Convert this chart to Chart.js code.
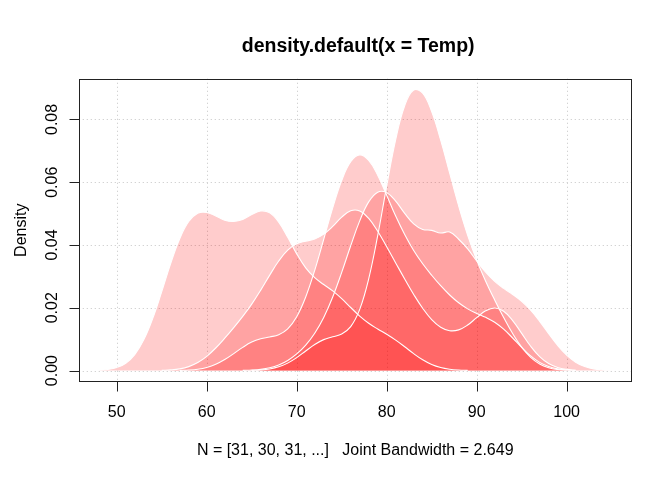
<!DOCTYPE html>
<html>
<head>
<meta charset="utf-8">
<script src="https://cdn.jsdelivr.net/npm/chart.js@4.4.1/dist/chart.umd.min.js"></script>
<style>
  html, body { margin: 0; padding: 0; background: #ffffff; }
  #wrap { width: 672px; height: 480px; }
</style>
</head>
<body>
<div id="wrap"><canvas id="c" width="672" height="480"></canvas></div>
<script>
// Temperature grid (x values)
const temps = [46,47,48,49,50,51,52,53,54,55,56,57,58,59,60,61,62,63,64,65,66,67,68,69,70,71,72,73,74,75,
  76,77,78,79,80,81,82,83,84,85,86,87,88,89,90,91,92,93,94,95,96,97,98,99,100,101,102,103,104,105,106];

// Density values per group, null = outside the curve
const densMay = [null,null,0.00011,0.00034,0.00095,0.00235,0.0051,0.00979,0.01662,0.02515,
  0.03413,0.042,0.04748,0.05013,0.05038,0.04924,0.0479,0.04753,0.04813,0.0497,
  0.05086,0.05026,0.04728,0.04247,0.03718,0.03271,0.02959,0.02741,0.02537,0.0229,
  0.02009,0.01736,0.01507,0.01324,0.01155,0.00969,0.00758,0.00539,0.00344,0.00194,
  0.00097,0.00043,0.00016,0.00005,
  null,null,null,null,null,null,null,null,null,null,null,null,null,null,null,null,null];

const densJun = [null,null,null,null,null,null,null,null,null,null,null,
  0.00006,0.00017,0.00044,0.0010,0.00199,0.0035,0.0054,0.0074,0.00908,0.01013,
  0.0107,0.01142,0.01328,0.01715,0.02345,0.03194,0.0418,0.05182,0.06054,0.06655,
  0.06872,0.06695,0.06224,0.05584,0.04922,0.04333,0.03824,0.03402,0.03037,0.02704,
  0.02408,0.02159,0.01966,0.01822,0.01696,0.01539,0.01318,0.01038,0.00737,0.00467,
  0.00261,0.00128,0.00055,0.00021,0.00007,
  null,null,null,null,null];

const densJul = [null,null,null,null,null,null,null,null,null,null,null,null,null,null,null,null,null,null,null,
  0.00007,0.0002,0.00052,0.00119,0.00237,0.00412,0.00625,0.00832,0.00986,0.01076,
  0.01167,0.014,0.01948,0.02923,0.04298,0.05879,0.07358,0.08437,0.08936,0.08837,
  0.08249,0.07341,0.0629,0.05246,0.0431,0.03518,0.02848,0.02251,0.01692,0.01179,
  0.00745,0.00421,0.0021,0.00092,0.00035,0.00012,
  null,null,null,null,null,null];

const densAug = [null,null,null,null,null,null,null,null,null,null,null,null,null,null,null,null,null,null,
  0.00005,0.00015,0.00039,0.00089,0.00179,0.00323,0.0053,0.00812,0.0119,0.01693,
  0.02343,0.03127,0.03975,0.04769,0.05374,0.05683,0.05669,0.05397,0.0501,0.04675,
  0.04497,0.04467,0.04383,0.04413,0.04184,0.03874,0.03492,0.03133,0.02842,0.02619,
  0.02425,0.02206,0.01922,0.01568,0.01178,0.00803,0.00492,0.00268,0.0013,0.00055,
  0.00021,0.00007,
  null];

const densSep = [null,null,null,null,null,null,null,null,null,
  0.00007,0.00021,0.00055,0.00126,0.00254,0.00453,0.00719,0.01032,0.01369,0.01726,
  0.02118,0.02563,0.03041,0.03489,0.03835,0.04037,0.04123,0.0419,0.04346,0.04591,
  0.04887,0.05091,0.05084,0.04845,0.04437,0.03945,0.0343,0.02918,0.02426,0.01984,
  0.01626,0.01382,0.0127,0.01297,0.01452,0.01685,0.01903,0.01995,0.01889,0.01593,
  0.01185,0.00775,0.00445,0.00223,0.00098,0.00037,0.00012,
  null,null,null,null,null];

const groupNames = ["May", "June", "July", "August", "September"];
const groupValues = [densMay, densJun, densJul, densAug, densSep];

// Axis ticks and texts
const xTicks = [50, 60, 70, 80, 90, 100];
const yTicks = [0, 0.02, 0.04, 0.06, 0.08];
const yTickLabels = ["0.00", "0.02", "0.04", "0.06", "0.08"];
const titleText = "density.default(x = Temp)";
const xLabelText = "N = [31, 30, 31, ...]   Joint Bandwidth = 2.649";
const yLabelText = "Density";

const FONT = '"Liberation Sans", Arial, Helvetica, sans-serif';

const datasets = groupValues.map((vals, gi) => ({
  label: groupNames[gi],
  data: temps.map((t, i) => ({ x: t, y: vals[i] })),
  borderColor: '#ffffff',
  borderWidth: 1.1,
  backgroundColor: 'rgba(255,0,0,0.2)',
  fill: 'origin',
  tension: 0.4,
  pointRadius: 0,
  spanGaps: false
}));

const bgGridPlugin = {
  id: 'bgGrid',
  beforeDraw(chart) {
    const ctx = chart.ctx;
    const a = chart.chartArea;
    const xs = chart.scales.x, ys = chart.scales.y;
    ctx.save();
    ctx.fillStyle = '#ffffff';
    ctx.fillRect(0, 0, chart.width, chart.height);
    ctx.strokeStyle = '#d3d3d3';
    ctx.lineWidth = 1;
    ctx.setLineDash([1.3, 2.7]);
    xTicks.forEach(v => {
      const px = Math.round(xs.getPixelForValue(v)) + 0.5;
      ctx.beginPath(); ctx.moveTo(px, a.top); ctx.lineTo(px, a.bottom); ctx.stroke();
    });
    yTicks.forEach(v => {
      const py = Math.round(ys.getPixelForValue(v)) + 0.5;
      ctx.beginPath(); ctx.moveTo(a.left, py); ctx.lineTo(a.right, py); ctx.stroke();
    });
    ctx.restore();
  }
};

const axesPlugin = {
  id: 'rAxes',
  afterDraw(chart) {
    const ctx = chart.ctx;
    const a = chart.chartArea;
    const xs = chart.scales.x, ys = chart.scales.y;
    ctx.save();
    ctx.setLineDash([]);
    ctx.strokeStyle = '#222222';
    ctx.lineWidth = 1;
    const L = Math.round(a.left) + 0.5, R = Math.round(a.right) - 0.5;
    const T = Math.round(a.top) + 0.5, B = Math.round(a.bottom) - 0.5;
    ctx.strokeRect(L, T, R - L, B - T);
    ctx.beginPath();
    xTicks.forEach(v => {
      const px = Math.round(xs.getPixelForValue(v)) + 0.5;
      ctx.moveTo(px, B); ctx.lineTo(px, B + 10);
    });
    yTicks.forEach(v => {
      const py = Math.round(ys.getPixelForValue(v)) + 0.5;
      ctx.moveTo(L, py); ctx.lineTo(L - 10, py);
    });
    ctx.stroke();

    ctx.fillStyle = '#000000';
    ctx.font = '16px ' + FONT;
    ctx.textAlign = 'center';
    ctx.textBaseline = 'alphabetic';
    xTicks.forEach(v => {
      ctx.fillText(String(v), xs.getPixelForValue(v), 416.5);
    });
    yTicks.forEach((v, i) => {
      ctx.save();
      ctx.translate(56.5, ys.getPixelForValue(v));
      ctx.rotate(-Math.PI / 2);
      ctx.fillText(yTickLabels[i], 0, 0);
      ctx.restore();
    });
    const cx = (a.left + a.right) / 2;
    ctx.fillText(xLabelText, cx, 455);
    ctx.save();
    ctx.translate(25.5, (a.top + a.bottom) / 2);
    ctx.rotate(-Math.PI / 2);
    ctx.fillText(yLabelText, 0, 0);
    ctx.restore();

    ctx.font = 'bold 19.5px ' + FONT;
    ctx.fillText(titleText, cx + 3, 51.5);
    ctx.restore();
  }
};

new Chart(document.getElementById('c'), {
  type: 'line',
  data: { datasets },
  options: {
    responsive: false,
    animation: false,
    devicePixelRatio: 1,
    layout: { padding: { left: 78.7, right: 40.3, top: 78.7, bottom: 98.2 } },
    scales: {
      x: { type: 'linear', min: 45.77, max: 107.23, display: false },
      y: { type: 'linear', min: -0.003576, max: 0.09298, display: false }
    },
    elements: { point: { radius: 0 } },
    plugins: {
      legend: { display: false },
      tooltip: { enabled: false },
      filler: { drawTime: 'beforeDatasetsDraw' }
    }
  },
  plugins: [bgGridPlugin, axesPlugin]
});
</script>
</body>
</html>
